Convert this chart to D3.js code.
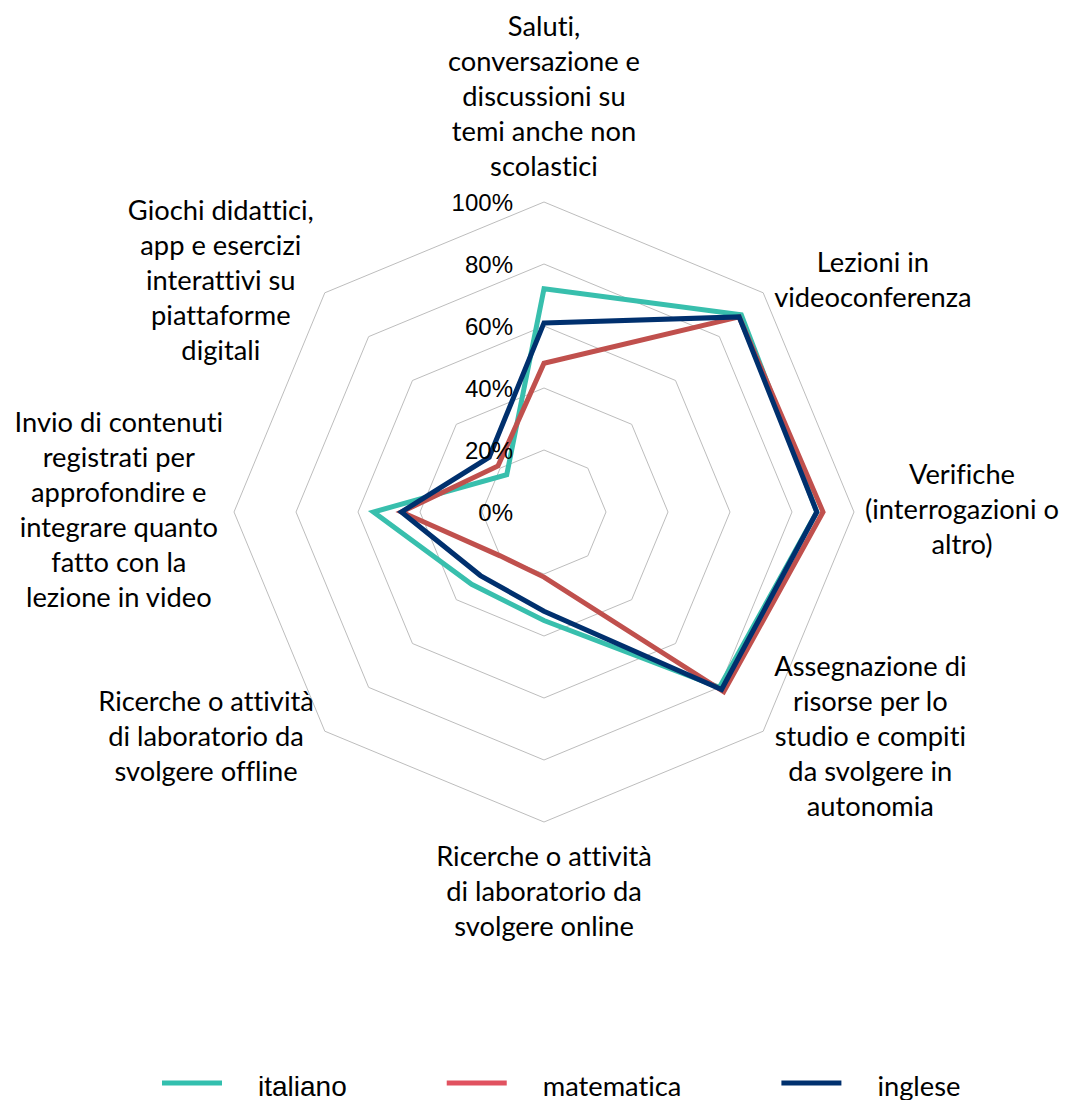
<!DOCTYPE html>
<html>
<head>
<meta charset="utf-8">
<script src="https://cdn.jsdelivr.net/npm/d3@7"></script>
<style>
  html, body { margin: 0; padding: 0; background: #fff; }
  svg { display: block; }
  text { font-variant-ligatures: none; font-feature-settings: "liga" 0, "clig" 0; }
</style>
</head>
<body>
<svg id="chart" width="1067" height="1100"></svg>
<script>
// ---- data ----
const categories = [
  "Saluti,\nconversazione e\ndiscussioni su\ntemi anche non\nscolastici",
  "Lezioni in\nvideoconferenza",
  "Verifiche\n(interrogazioni o\naltro)",
  "Assegnazione di\nrisorse per lo\nstudio e compiti\nda svolgere in\nautonomia",
  "Ricerche o attività\ndi laboratorio da\nsvolgere online",
  "Ricerche o attività\ndi laboratorio da\nsvolgere offline",
  "Invio di contenuti\nregistrati per\napprofondire e\nintegrare quanto\nfatto con la\nlezione in video",
  "Giochi didattici,\napp e esercizi\ninterattivi su\npiattaforme\ndigitali"
];
const seriesNames = ["italiano", "matematica", "inglese"];
const italiano   = [72, 90, 88, 80, 35, 33, 55, 17];
const matematica = [48, 89, 90, 82, 21, 20, 46, 21];
const inglese    = [61, 89, 88, 81, 32, 29, 46, 25];
const tickValues = [0, 20, 40, 60, 80, 100];
const tickLabels = ["0%", "20%", "40%", "60%", "80%", "100%"];

// ---- styles ----
const lineColors   = ["#38BFAD", "#C0504D", "#00306E"];
const legendColors = ["#33BFAE", "#E15260", "#00306E"];
const catFont  = "Lato, 'Open Sans', sans-serif";
const tickFont = "'Liberation Sans', Arial, sans-serif";

const svg = d3.select("#chart");
const cx = 544, cy = 512, R = 310;
const N = categories.length;

const r = d3.scaleLinear().domain([0, 100]).range([0, R]);
const angle = d3.scaleLinear().domain([0, N]).range([0, 2 * Math.PI]);

// ---- grid ----
const g = svg.append("g").attr("transform", `translate(${cx},${cy})`);
const ringLine = d3.lineRadial()
  .angle((d, i) => angle(i))
  .radius(d => r(d))
  .curve(d3.curveLinearClosed);

g.append("g").selectAll("path")
  .data(tickValues.filter(t => t > 0))
  .join("path")
  .attr("d", t => ringLine(d3.range(N).map(() => t)))
  .attr("fill", "none")
  .attr("stroke", "#BDBDBD")
  .attr("stroke-width", 1);

// ---- series ----
const seriesData = [italiano, matematica, inglese];
const seriesLine = d3.lineRadial()
  .angle((d, i) => angle(i))
  .radius(d => r(d))
  .curve(d3.curveLinearClosed);

g.append("g").selectAll("path")
  .data(seriesData)
  .join("path")
  .attr("d", d => seriesLine(d))
  .attr("fill", "none")
  .attr("stroke", (d, i) => lineColors[i])
  .attr("stroke-width", 5)
  .attr("stroke-linejoin", "miter");

// ---- tick labels (drawn along top axis) ----
g.append("g").selectAll("text")
  .data(tickValues)
  .join("text")
  .attr("x", -31)
  .attr("y", t => -r(t) + 8.5)
  .attr("text-anchor", "end")
  .attr("font-family", tickFont)
  .attr("font-size", 24)
  .attr("fill", "#000")
  .text((t, i) => tickLabels[i]);

// ---- measure Lato size to match original label widths ----
const probe = svg.append("text").attr("font-family", catFont).attr("font-size", 100).text("conversazione e");
const w100 = probe.node().getComputedTextLength();
probe.remove();
const catSize = Math.max(22, Math.min(32, 100 * 192 / w100));
const lineH = 35;

// ---- category labels ----
const labG = svg.append("g");
categories.forEach((cat, i) => {
  const lines = cat.split("\n");
  const a = angle(i);
  const sx = Math.sin(a), sy = -Math.cos(a);
  const vx = cx + R * sx, vy = cy + R * sy;
  const t = labG.append("text")
    .attr("font-family", catFont)
    .attr("font-size", catSize)
    .attr("fill", "#000")
    .attr("text-anchor", "middle");
  const tspans = lines.map(l => t.append("tspan").text(l));
  const maxW = d3.max(tspans, s => s.node().getComputedTextLength());
  const n = lines.length;
  let xc, baselines;
  if (Math.abs(sx) < 0.01) {
    xc = vx;
    if (sy < 0) {
      const last = vy - 26;
      baselines = d3.range(n).map(k => last - (n - 1 - k) * lineH);
    } else {
      const first = vy + 44;
      baselines = d3.range(n).map(k => first + k * lineH);
    }
  } else {
    const yShift = Math.abs(sy) < 0.01 ? 0 : (sy < 0 ? -10 : 8);
    const vc = vy + yShift;
    baselines = d3.range(n).map(k => vc + (k - (n - 1) / 2) * lineH + 7);
    xc = sx > 0 ? vx + 11 + maxW / 2 : vx - 11 - maxW / 2;
  }
  tspans.forEach((s, k) => s.attr("x", xc).attr("y", baselines[k]));
});

// ---- legend ----
const legendFonts = [
  { family: tickFont, size: 28 },
  { family: catFont, size: catSize },
  { family: catFont, size: catSize }
];
const leg = svg.append("g");
let lx = 162;
const ly = 1083;
seriesNames.forEach((name, i) => {
  leg.append("line")
    .attr("x1", lx).attr("x2", lx + 60)
    .attr("y1", ly).attr("y2", ly)
    .attr("stroke", legendColors[i])
    .attr("stroke-width", 5);
  const tx = leg.append("text")
    .attr("x", lx + 96)
    .attr("y", ly + 12.5)
    .attr("font-family", legendFonts[i].family)
    .attr("font-size", legendFonts[i].size)
    .attr("fill", "#000")
    .text(name);
  lx = lx + 96 + tx.node().getComputedTextLength() + 100;
});
</script>
</body>
</html>
